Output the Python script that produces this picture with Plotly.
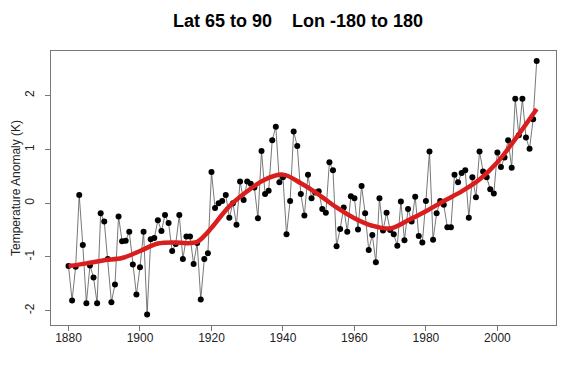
import plotly.graph_objects as go

years = list(range(1880, 2012))
anomaly = [
    -1.17, -1.81, -1.18, 0.15, -0.78, -1.86, -1.16, -1.38, -1.86, -0.19,
    -0.34, -1.04, -1.84, -1.51, -0.25, -0.71, -0.70, -0.53, -1.14, -1.70,
    -1.19, -0.53, -2.07, -0.67, -0.65, -0.32, -0.52, -0.22, -0.37, -0.89,
    -0.76, -0.22, -1.04, -0.62, -0.62, -1.13, -0.74, -1.79, -1.04, -0.93,
    0.58, -0.09, 0.00, 0.04, 0.15, -0.27, 0.00, -0.40, 0.40, 0.06,
    0.40, 0.36, 0.29, -0.28, 0.97, 0.17, 0.23, 1.17, 1.42, 0.39,
    0.48, -0.58, 0.04, 1.33, 1.06, 0.17, -0.23, 0.53, 0.09, 0.20,
    0.22, -0.11, -0.18, 0.76, 0.61, -0.80, -0.48, -0.08, -0.53, 0.13,
    0.09, -0.49, 0.32, -0.19, -0.87, -0.59, -1.10, 0.09, -0.51, -0.18,
    -0.50, -0.58, -0.79, 0.03, -0.69, -0.11, -0.34, 0.12, -0.61, -0.73,
    0.04, 0.96, -0.68, -0.19, 0.04, -0.03, -0.45, -0.45, 0.53, 0.39,
    0.56, 0.61, -0.27, 0.48, 0.11, 0.96, 0.59, 0.48, 0.26, 0.18,
    0.94, 0.67, 0.85, 1.17, 0.66, 1.94, 1.26, 1.94, 1.22, 1.01,
    1.56, 2.64,
]

smooth_years = [1880, 1885, 1890, 1895, 1900, 1905, 1910, 1913, 1916, 1918,
                1920, 1925, 1930, 1935, 1940, 1945, 1950, 1955, 1960, 1965,
                1970, 1975, 1980, 1985, 1990, 1995, 2000, 2005, 2011]
smooth_vals = [-1.17, -1.12, -1.06, -1.02, -0.89, -0.75, -0.73, -0.745, -0.72, -0.61,
               -0.46, -0.06, 0.22, 0.44, 0.53, 0.37, 0.16, -0.08, -0.28, -0.42,
               -0.47, -0.32, -0.15, 0.04, 0.22, 0.44, 0.76, 1.19, 1.75]

x_ticks = [1880, 1900, 1920, 1940, 1960, 1980, 2000]
y_ticks = [-2, -1, 0, 1, 2]

FONT = "Liberation Sans, Arial, sans-serif"

fig = go.Figure()
fig.add_trace(go.Scatter(
    x=years, y=anomaly, mode="lines+markers",
    line=dict(color="#555555", width=0.8),
    marker=dict(color="black", size=6),
    showlegend=False, hoverinfo="skip",
))
fig.add_trace(go.Scatter(
    x=smooth_years, y=smooth_vals, mode="lines",
    line=dict(color="#da1e1e", width=4.5, shape="spline", smoothing=1.0),
    showlegend=False, hoverinfo="skip",
))

axis_common = dict(
    showline=True, linecolor="#777777", linewidth=1, mirror=True,
    ticks="outside", ticklen=5, tickcolor="#777777", tickwidth=1,
    showgrid=False, zeroline=False,
    tickfont=dict(family=FONT, size=12, color="#222222"),
)

fig.update_layout(
    width=570, height=372,
    margin=dict(l=43, r=22, t=43, b=55),
    paper_bgcolor="white", plot_bgcolor="white",
    title=dict(
        text="Lat 65 to 90\u00a0\u00a0\u00a0\u00a0Lon -180 to 180",
        font=dict(family=FONT, size=18, color="black", weight="bold"),
        x=290 / 570, xanchor="center",
        y=1 - 13 / 372, yanchor="middle", yref="container",
    ),
    xaxis=dict(range=[1875.1, 2016.4], tickvals=x_ticks,
               ticktext=[str(v) for v in x_ticks], ticklabelstandoff=-3,
               **axis_common),
    yaxis=dict(range=[-2.265, 2.828], tickvals=y_ticks,
               ticktext=[str(v) for v in y_ticks], tickangle=-90,
               ticklabelstandoff=6, **axis_common),
    annotations=[dict(
        text="Temperature Anomaly (K)", xref="paper", yref="paper",
        x=0, y=0.5, xshift=-35, textangle=-90, showarrow=False,
        xanchor="center", yanchor="middle",
        font=dict(family=FONT, size=12, color="#222222"),
    )],
)

fig.write_html("out.html")
